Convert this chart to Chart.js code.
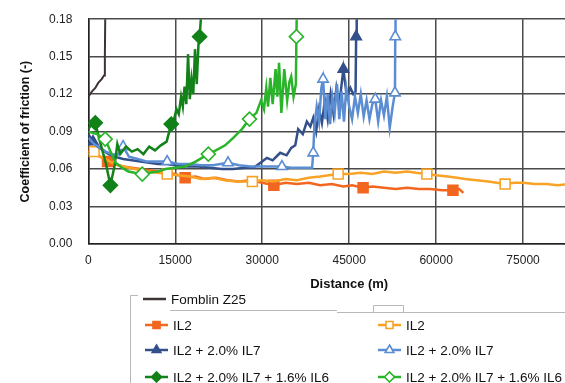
<!DOCTYPE html>
<html>
<head>
<meta charset="utf-8">
<script src="https://cdn.jsdelivr.net/npm/chart.js@4.4.1/dist/chart.umd.min.js"></script>
<style>
  html, body { margin: 0; padding: 0; background: #fff; overflow: hidden; }
  #wrap { width: 640px; height: 387px; margin-top: -4px; }
</style>
</head>
<body>
<div id="wrap"><canvas id="c" width="640" height="387"></canvas></div>
<script>
/* ── data: distance (m) / coefficient of friction ── */
const fomX = [0, 600, 1200, 1700, 2300, 2700, 2850, 2950];
const fomY = [0.118, 0.122, 0.125, 0.129, 0.132, 0.135, 0.150, 0.200];

const il2aX = [0, 1000, 2000, 3300, 4500, 6000, 7500, 9000, 10500, 12000, 13500, 15000, 16700, 18500, 20000,
  22000, 24000, 26000, 28000, 30000, 32000, 34000, 36000, 38000, 40000, 42000, 44000, 45500, 47400, 49000,
  51000, 53000, 55000, 57000, 59000, 61000, 62900, 64000, 64700];
const il2aY = [0.075, 0.072, 0.070, 0.066, 0.064, 0.062, 0.061, 0.060, 0.059, 0.058, 0.057, 0.056, 0.053, 0.054, 0.052,
  0.053, 0.051, 0.050, 0.051, 0.049, 0.047, 0.049, 0.048, 0.049, 0.047, 0.048, 0.046, 0.047, 0.045, 0.046,
  0.045, 0.044, 0.045, 0.044, 0.044, 0.043, 0.043, 0.044, 0.041];
const il2aMarks = [3300, 16700, 32000, 47400, 62900];

const il2bX = [0, 1000, 2000, 3000, 4500, 6000, 8000, 10000, 12000, 13600, 15500, 17500, 19500, 21500, 23500,
  25500, 28300, 30000, 32000, 34000, 36000, 38000, 40000, 41500, 43100, 45000, 47000, 49000, 51000, 53000,
  55000, 56500, 58400, 60000, 62000, 63600, 65000, 67000, 69000, 71900, 73500, 75000, 77000, 79000, 81000, 83000];
const il2bY = [0.072, 0.074, 0.070, 0.068, 0.064, 0.062, 0.060, 0.058, 0.057, 0.056, 0.055, 0.054, 0.052, 0.053, 0.051,
  0.050, 0.050, 0.051, 0.050, 0.052, 0.051, 0.053, 0.054, 0.055, 0.056, 0.056, 0.057, 0.056, 0.058, 0.057,
  0.058, 0.057, 0.056, 0.055, 0.054, 0.053, 0.052, 0.051, 0.050, 0.048, 0.049, 0.049, 0.048, 0.048, 0.047, 0.048];
const il2bMarks = [1000, 13600, 28300, 43100, 58400, 71900];

const il7aX = [0, 800, 1600, 2500, 3500, 4500, 6000, 7500, 9000, 10500, 12000, 13500, 15000, 17000, 19000,
  21000, 23000, 25000, 27000, 28500, 30000, 30800, 31800, 33100, 34200, 35000, 35700, 36200, 37000, 37700,
  38300, 38800, 39300, 39800, 40300, 40800, 41300, 41800, 42300, 42800, 43300, 44000, 44600, 45200, 45700,
  46100, 46200, 46300];
const il7aY = [0.088, 0.082, 0.078, 0.075, 0.072, 0.070, 0.068, 0.067, 0.066, 0.065, 0.064, 0.064, 0.063, 0.062, 0.062,
  0.061, 0.060, 0.060, 0.061, 0.061, 0.066, 0.069, 0.067, 0.073, 0.071, 0.077, 0.079, 0.092, 0.088, 0.098,
  0.094, 0.101, 0.090, 0.108, 0.097, 0.115, 0.100, 0.120, 0.104, 0.125, 0.112, 0.140, 0.118, 0.125, 0.120,
  0.122, 0.166, 0.200];
const il7aMarks = [800, 44000, 46200];

const il7bX = [0, 1000, 2000, 3000, 4000, 5000, 6000, 7000, 8500, 10000, 11500, 13600, 15500, 17500, 19500,
  21500, 24100, 26000, 28000, 30000, 32000, 33400, 35000, 36500, 38000, 38600, 38800, 39000, 39400, 39800,
  40200, 40500, 40900, 41300, 41700, 42100, 42500, 42900, 43300, 43700, 44100, 44500, 45000, 45500, 46000,
  46500, 47000, 47500, 48000, 48500, 49000, 49500, 50000, 50500, 51000, 51500, 52000, 52500, 52900, 52950, 53000];
const il7bY = [0.085, 0.080, 0.077, 0.074, 0.072, 0.071, 0.078, 0.070, 0.068, 0.066, 0.066, 0.066, 0.064, 0.064, 0.063,
  0.063, 0.065, 0.063, 0.062, 0.062, 0.062, 0.062, 0.061, 0.061, 0.061, 0.061, 0.073, 0.095, 0.110, 0.098,
  0.125, 0.132, 0.100, 0.120, 0.096, 0.118, 0.105, 0.128, 0.100, 0.122, 0.098, 0.125, 0.110, 0.100, 0.118,
  0.105, 0.120, 0.102, 0.115, 0.100, 0.112, 0.116, 0.098, 0.115, 0.103, 0.118, 0.093, 0.110, 0.121, 0.166, 0.200];
const il7bMarks = [6000, 13600, 24100, 33400, 38800, 40500, 49500, 52900, 52950];

const il6aX = [0, 500, 1200, 2000, 3000, 3800, 4500, 5000, 5500, 6500, 7500, 8500, 9500, 10500, 11500, 12500,
  13500, 14300, 14800, 15200, 15600, 16000, 16300, 16600, 16900, 17200, 17500, 17800, 18100, 18400, 18700,
  19000, 19200, 19700];
const il6aY = [0.092, 0.095, 0.097, 0.082, 0.065, 0.047, 0.062, 0.080, 0.072, 0.078, 0.074, 0.076, 0.072, 0.078, 0.075, 0.079,
  0.082, 0.096, 0.100, 0.108, 0.104, 0.118, 0.110, 0.126, 0.112, 0.152, 0.116, 0.132, 0.120, 0.156, 0.128,
  0.160, 0.166, 0.200];
const il6aMarks = [1200, 3800, 14300, 19200];

const il6bX = [0, 1500, 2900, 4000, 4700, 5800, 6900, 8000, 9300, 10500, 12000, 13300, 15000, 16700, 18500,
  20700, 22000, 23600, 25000, 26500, 27800, 29000, 29800, 30300, 30700, 31000, 31400, 31800, 32300, 32600,
  32900, 33300, 33800, 34300, 34700, 35000, 35400, 35800, 35900, 36000];
const il6bY = [0.090, 0.088, 0.084, 0.072, 0.065, 0.061, 0.058, 0.057, 0.056, 0.057, 0.058, 0.060, 0.061, 0.062, 0.066,
  0.072, 0.075, 0.079, 0.085, 0.092, 0.100, 0.105, 0.115, 0.108, 0.125, 0.110, 0.133, 0.112, 0.140, 0.118,
  0.145, 0.105, 0.140, 0.115, 0.130, 0.134, 0.118, 0.128, 0.166, 0.200];
const il6bMarks = [2900, 9300, 20700, 27800, 35900];

const labels = ['Fomblin Z25', 'IL2', 'IL2', 'IL2 + 2.0% IL7', 'IL2 + 2.0% IL7',
  'IL2 + 2.0% IL7 + 1.6% IL6', 'IL2 + 2.0% IL7 + 1.6% IL6'];

/* ── helpers ── */
function series(i, xs, ys, color, style, filled, marks, r, w) {
  return {
    label: labels[i],
    data: xs.map((x, k) => ({ x, y: ys[k] })),
    borderColor: color, backgroundColor: filled ? color : '#fff',
    borderWidth: w || 2.5, tension: 0, fill: false, order: 10 - i,
    pointStyle: style || 'circle',
    pointBorderColor: color, pointBackgroundColor: filled ? color : '#fff',
    pointBorderWidth: 1.6,
    pointRadius: ctx => (marks && marks.includes(xs[ctx.dataIndex])) ? r : 0,
    pointHoverRadius: 0,
    _filled: filled
  };
}

function marker(ctx, style, x, y, r, fill, stroke) {
  ctx.save();
  ctx.beginPath();
  if (style === 'rect') {
    const h = r * Math.SQRT1_2;
    ctx.rect(x - h, y - h, 2 * h, 2 * h);
  } else if (style === 'rectRot') {
    ctx.moveTo(x - r, y); ctx.lineTo(x, y - r); ctx.lineTo(x + r, y); ctx.lineTo(x, y + r); ctx.closePath();
  } else if (style === 'triangle') {
    const s = r * 3 / Math.sqrt(3), h = s * Math.sqrt(3) / 2;
    ctx.moveTo(x, y - h * 2 / 3); ctx.lineTo(x + s / 2, y + h / 3); ctx.lineTo(x - s / 2, y + h / 3); ctx.closePath();
  }
  ctx.fillStyle = fill; ctx.fill();
  ctx.lineWidth = 1.6; ctx.strokeStyle = stroke; ctx.stroke();
  ctx.restore();
}

/* ── legend drawn under the axis, Excel style (canvas sits 4px above the page top) ── */
const legendBox = {
  id: 'legendBox',
  afterDraw(chart) {
    const ctx = chart.ctx;
    const slots = [[143, 299], [145, 325], [378, 325], [145, 350], [378, 350], [145, 377], [378, 377]];
    ctx.save();
    ctx.translate(0, 4);
    // frame
    ctx.strokeStyle = '#b8b8b8'; ctx.lineWidth = 1;
    ctx.beginPath();
    ctx.moveTo(130.5, 383); ctx.lineTo(130.5, 295.5); ctx.lineTo(138, 295.5);
    ctx.moveTo(170, 310.5); ctx.lineTo(337, 310.5);
    ctx.moveTo(337, 312.5); ctx.lineTo(640, 312.5);
    ctx.moveTo(373.5, 312); ctx.lineTo(373.5, 305.5); ctx.lineTo(403.5, 305.5); ctx.lineTo(403.5, 312);
    ctx.stroke();

    ctx.font = '13.5px "Liberation Sans", Arial, sans-serif';
    ctx.textBaseline = 'middle';
    chart.data.datasets.forEach((ds, i) => {
      const [x0, y] = slots[i];
      ctx.strokeStyle = ds.borderColor; ctx.lineWidth = 2.5;
      ctx.beginPath(); ctx.moveTo(x0, y); ctx.lineTo(x0 + 23, y); ctx.stroke();
      if (i > 0) marker(ctx, ds.pointStyle, x0 + 11.5, y, 5, ds._filled ? ds.borderColor : '#fff', ds.borderColor);
      ctx.fillStyle = '#111';
      ctx.fillText(ds.label, x0 + 28, y + 1);
    });
    ctx.restore();
  }
};

const tickFont = { family: '"Liberation Sans", Arial, sans-serif', size: 12 };
const grid = { color: '#4a4a4a', lineWidth: 1.5, drawTicks: false };

new Chart('c', {
  type: 'line',
  data: {
    datasets: [
      series(0, fomX, fomY, '#3d3434', null, true, null, 0, 2),
      series(1, il2aX, il2aY, '#f2661f', 'rect', true, il2aMarks, 7),
      series(2, il2bX, il2bY, '#f8a326', 'rect', false, il2bMarks, 7),
      series(3, il7aX, il7aY, '#33508a', 'triangle', true, il7aMarks, 6),
      series(4, il7bX, il7bY, '#5b8dd3', 'triangle', false, il7bMarks, 6),
      series(5, il6aX, il6aY, '#128218', 'rectRot', true, il6aMarks, 7),
      series(6, il6bX, il6bY, '#2ab42a', 'rectRot', false, il6bMarks, 7)
    ]
  },
  options: {
    responsive: false, animation: false,
    layout: { padding: { top: 10, left: 16, right: 30, bottom: 91 } },
    plugins: { legend: { display: false }, tooltip: { enabled: false } },
    scales: {
      x: {
        type: 'linear', min: 0, max: 90000,
        grid, border: { color: '#222', width: 1.5 },
        ticks: { stepSize: 15000, padding: 9, color: '#222', font: tickFont, maxRotation: 0, callback: v => String(v) },
        title: { display: true, text: 'Distance (m)', color: '#111', padding: { top: 0, bottom: 0 },
          font: { family: '"Liberation Sans", Arial, sans-serif', size: 13, weight: 'bold' } }
      },
      y: {
        min: 0, max: 0.18,
        grid, border: { color: '#222', width: 1.5 },
        ticks: { stepSize: 0.03, padding: 16, color: '#222', font: tickFont, callback: v => v.toFixed(2) },
        title: { display: true, text: 'Coefficient of friction (-)', color: '#111', padding: { top: 2, bottom: 0 },
          font: { family: '"Liberation Sans", Arial, sans-serif', size: 12.5, weight: 'bold' } }
      }
    }
  },
  plugins: [legendBox]
});
</script>
</body>
</html>
